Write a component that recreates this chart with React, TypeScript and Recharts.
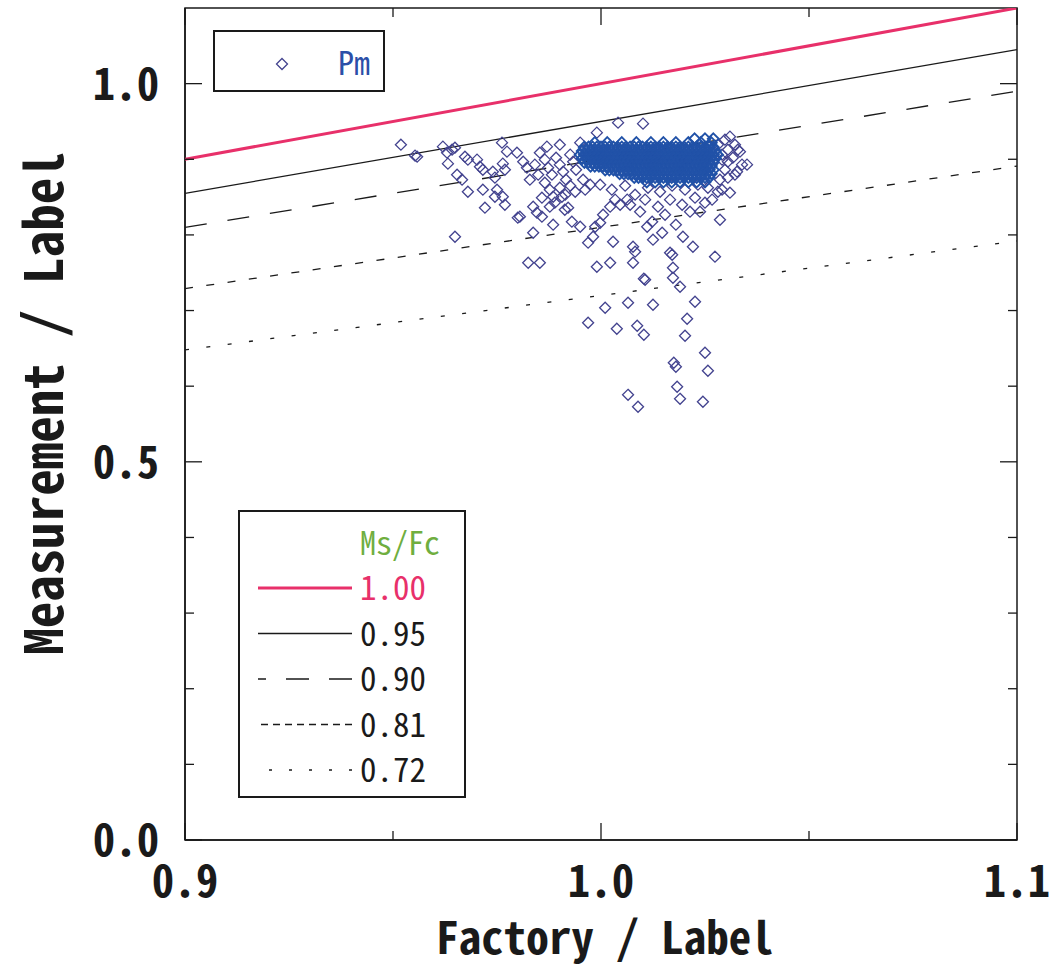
import React from 'react';
import { ScatterChart, Scatter, XAxis, YAxis, Label, ReferenceArea } from 'recharts';

const W = 1053;
const H = 968;
const FONT = "'Noto Sans Mono CJK JP', 'Noto Sans CJK JP', 'DejaVu Sans Mono', monospace";
const INK = '#1a1a1a';
const RED = '#e8306a';
const GREEN = '#6fae3f';
const PM_BLUE = '#2b4fa8';
const OUTLIER_STROKE = '#43438f';
const CORE_STROKE = '#2152a8';

// axes
const xDomain = [0.9, 1.1];
const yDomain = [0, 1.1];
const xTicks = [0.9, 0.95, 1.0, 1.05, 1.1];
const xTickLabels = [0.9, 1.0, 1.1];
const yTicks = [0, 0.1, 0.2, 0.3, 0.4, 0.5, 0.6, 0.7, 0.8, 0.9, 1.0];
const yTickLabels = [0, 0.5, 1.0];

// Ms/Fc reference lines (y = ratio * x)
const ratios = [1.0, 0.95, 0.9, 0.81, 0.72];
const ratioNames = ['1.00', '0.95', '0.90', '0.81', '0.72'];

// Pm points: scattered ones around the cluster
const pmOutliers: [number, number][] = [
  [0.9519, 0.9193], [0.9553, 0.9048], [0.9558, 0.9034], [0.962, 0.9167], [0.963, 0.9087],
  [0.9642, 0.9127], [0.9649, 0.9153], [0.9632, 0.8942], [0.9673, 0.9034], [0.968, 0.8995],
  [0.9702, 0.8995], [0.9709, 0.8902], [0.9716, 0.8862], [0.9654, 0.8796], [0.9666, 0.873],
  [0.968, 0.8571], [0.9716, 0.8598], [0.9721, 0.836], [0.9762, 0.922], [0.9774, 0.9101],
  [0.9764, 0.8942], [0.9769, 0.8862], [0.974, 0.8836], [0.9745, 0.8757], [0.975, 0.8598],
  [0.9745, 0.8505], [0.9764, 0.8505], [0.9769, 0.8399], [0.9798, 0.9087], [0.9813, 0.8968],
  [0.9822, 0.8889], [0.98, 0.8228], [0.9805, 0.8241], [0.9837, 0.8373], [0.9846, 0.8294],
  [0.9858, 0.8241], [0.9885, 0.8505], [0.9877, 0.8373], [0.9885, 0.8135], [0.9906, 0.8505],
  [0.9913, 0.8333], [0.9921, 0.836], [0.993, 0.8175], [0.995, 0.8108], [0.9649, 0.7976],
  [0.9837, 0.8029], [0.9825, 0.7632], [0.9853, 0.7632], [0.987, 0.9167], [0.9901, 0.9193],
  [0.995, 0.922], [0.999, 0.9352], [1.0041, 0.9484], [1.0101, 0.9471], [0.9969, 0.7897],
  [0.9981, 0.7976], [0.9986, 0.8108], [0.9998, 0.8161], [1.0005, 0.8267], [1.0022, 0.8373],
  [1.0029, 0.791], [1.0046, 0.8399], [1.0063, 0.8466], [0.999, 0.7579], [1.0022, 0.7632],
  [1.0077, 0.7844], [1.0082, 0.7778], [1.0077, 0.7632], [1.0103, 0.7421], [1.0106, 0.7407],
  [1.0065, 0.7103], [1.0125, 0.7077], [1.001, 0.7037], [0.9969, 0.6839], [1.0038, 0.6759],
  [1.0087, 0.6799], [1.0103, 0.668], [1.0111, 0.8108], [1.0125, 0.7937], [1.0147, 0.8029],
  [1.0166, 0.7765], [1.0171, 0.7738], [1.0173, 0.7566], [1.0173, 0.7434], [1.019, 0.7315],
  [1.0226, 0.7116], [1.0207, 0.6892], [1.0202, 0.6667], [1.0197, 0.7976], [1.0221, 0.7844],
  [1.0238, 0.8307], [1.0274, 0.7712], [1.0286, 0.8201], [1.0291, 0.8598], [1.031, 0.8558],
  [1.0334, 0.9101], [1.0351, 0.8929], [1.0327, 0.8836], [1.031, 0.9299], [1.025, 0.6442],
  [1.0257, 0.6204], [1.0175, 0.631], [1.018, 0.6257], [1.0183, 0.5992], [1.019, 0.5833],
  [1.0245, 0.5794], [1.0065, 0.5886], [1.0089, 0.5728],
];

// Pm points: the fringe of the dense cluster
const pmFringe: [number, number][] = [
  [0.9853, 0.9087], [0.9865, 0.8995], [0.9873, 0.8889], [0.9882, 0.8796], [0.9892, 0.9021],
  [0.9901, 0.8929], [0.9909, 0.8836], [0.9916, 0.873], [0.9926, 0.9061], [0.9933, 0.8968],
  [0.994, 0.8862], [0.9926, 0.8651], [0.9901, 0.8624], [0.9877, 0.8598], [0.9865, 0.869],
  [0.9849, 0.8796], [0.9841, 0.8929], [0.9829, 0.873], [0.9858, 0.8492], [0.9889, 0.8426],
  [0.9914, 0.8532], [0.9938, 0.8571], [0.9962, 0.8598], [0.9974, 0.8664], [0.9957, 0.873],
  [0.9998, 0.8664], [1.0026, 0.8598], [1.0058, 0.8651], [1.0082, 0.8532], [1.0113, 0.8624],
  [1.0142, 0.8571], [1.0171, 0.8651], [1.0202, 0.8598], [1.0233, 0.8664], [1.0257, 0.8624],
  [1.0034, 0.8466], [1.007, 0.8399], [1.0106, 0.8466], [1.0137, 0.8373], [1.0166, 0.8466],
  [1.0195, 0.8399], [1.0226, 0.8492], [1.025, 0.8426], [1.0094, 0.8307], [1.0154, 0.8267],
  [1.0214, 0.8307], [1.0123, 0.8175], [1.018, 0.8135], [1.0267, 0.8466], [1.0281, 0.8571],
  [1.0286, 0.873], [1.0298, 0.8862], [1.0291, 0.8995], [1.0305, 0.9127], [1.0322, 0.9193],
  [1.0298, 0.9259], [1.0281, 0.9193], [1.0291, 0.9061], [1.0305, 0.8968], [1.0317, 0.9021],
  [1.0329, 0.9127], [1.0339, 0.8929], [1.0322, 0.8796], [1.0305, 0.8757],
];

// Pm points: the dense core, row by row (x values at each y)
const core927 = [1.0225, 1.025, 1.027];
const core922 = [0.9985, 1.0015, 1.005, 1.0085, 1.012, 1.015, 1.018, 1.021, 1.024, 1.0265];
const core916 = [
  0.996, 0.997, 0.998, 0.999, 1.0, 1.001, 1.002, 1.003, 1.004, 1.005, 1.006, 1.007, 1.008, 1.009, 1.01, 1.011,
  1.012, 1.013, 1.014, 1.015, 1.016, 1.017, 1.018, 1.019, 1.02, 1.021, 1.022, 1.023, 1.024, 1.025, 1.026, 1.027,
];
const core911 = [
  0.9955, 0.9965, 0.9975, 0.9985, 0.9995, 1.0005, 1.0015, 1.0025, 1.0035, 1.0045, 1.0055, 1.0065, 1.0075,
  1.0085, 1.0095, 1.0105, 1.0115, 1.0125, 1.0135, 1.0145, 1.0155, 1.0165, 1.0175, 1.0185, 1.0195, 1.0205,
  1.0215, 1.0225, 1.0235, 1.0245, 1.0255, 1.0265, 1.0275,
];
const core906 = [
  0.995, 0.996, 0.997, 0.998, 0.999, 1.0, 1.001, 1.002, 1.003, 1.004, 1.005, 1.006, 1.007, 1.008, 1.009, 1.01,
  1.011, 1.012, 1.013, 1.014, 1.015, 1.016, 1.017, 1.018, 1.019, 1.02, 1.021, 1.022, 1.023, 1.024, 1.025, 1.026,
  1.027, 1.028,
];
const core901 = [
  0.9955, 0.9965, 0.9975, 0.9985, 0.9995, 1.0005, 1.0015, 1.0025, 1.0035, 1.0045, 1.0055, 1.0065, 1.0075,
  1.0085, 1.0095, 1.0105, 1.0115, 1.0125, 1.0135, 1.0145, 1.0155, 1.0165, 1.0175, 1.0185, 1.0195, 1.0205,
  1.0215, 1.0225, 1.0235, 1.0245, 1.0255, 1.0265, 1.0275,
];
const core896 = [
  0.996, 0.997, 0.998, 0.999, 1.0, 1.001, 1.002, 1.003, 1.004, 1.005, 1.006, 1.007, 1.008, 1.009, 1.01, 1.011,
  1.012, 1.013, 1.014, 1.015, 1.016, 1.017, 1.018, 1.019, 1.02, 1.021, 1.022, 1.023, 1.024, 1.025, 1.026, 1.027,
];
const core891 = [
  0.9975, 0.9985, 0.9995, 1.0005, 1.0015, 1.0025, 1.0035, 1.0045, 1.0055, 1.0065, 1.0075, 1.0085, 1.0095,
  1.0105, 1.0115, 1.0125, 1.0135, 1.0145, 1.0155, 1.0165, 1.0175, 1.0185, 1.0195, 1.0205, 1.0215, 1.0225,
  1.0235, 1.0245, 1.0255, 1.0265,
];
const core886 = [
  1.001, 1.002, 1.003, 1.004, 1.005, 1.006, 1.007, 1.008, 1.009, 1.01, 1.011, 1.012, 1.013, 1.014, 1.015,
  1.016, 1.017, 1.018, 1.019, 1.02, 1.021, 1.022, 1.023, 1.024, 1.025, 1.026, 1.027,
];
const core881 = [
  1.0045, 1.0055, 1.0065, 1.0075, 1.0085, 1.0095, 1.0105, 1.0115, 1.0125, 1.0135, 1.0145, 1.0155, 1.0165,
  1.0175, 1.0185, 1.0195, 1.0205, 1.0215, 1.0225, 1.0235, 1.0245, 1.0255, 1.0265,
];
const core876 = [
  1.008, 1.009, 1.01, 1.011, 1.012, 1.013, 1.014, 1.015, 1.016, 1.017, 1.018, 1.019, 1.02, 1.021, 1.022,
  1.023, 1.024, 1.025, 1.026,
];
const core870 = [1.011, 1.013, 1.015, 1.017, 1.019, 1.021, 1.023, 1.025];

const coreRows: [number, number[]][] = [
  [0.927, core927], [0.922, core922], [0.916, core916], [0.911, core911], [0.906, core906],
  [0.901, core901], [0.896, core896], [0.891, core891], [0.886, core886], [0.881, core881],
  [0.876, core876], [0.87, core870],
];

const lineStyles = [
  { stroke: RED, width: 3, dash: undefined as string | undefined, legendDash: undefined as string | undefined },
  { stroke: INK, width: 1.3, dash: undefined, legendDash: undefined },
  { stroke: INK, width: 1.3, dash: '22 21', legendDash: '23 20' },
  { stroke: INK, width: 1.3, dash: '8 13.5', legendDash: '7 5' },
  { stroke: INK, width: 1.3, dash: '4 17.5', legendDash: '3 17' },
];

const MAJOR = 17;
const MINOR = 9;
const isOneOf = (v: number, list: number[]) => list.some(m => Math.abs(m - v) < 1e-9);

const tickText = { fontFamily: FONT, fontSize: 44, fontWeight: 700, fill: INK } as const;

const BottomTick = ({ x, y, payload }: any) => {
  const major = isOneOf(payload.value, xTickLabels);
  return (
    <g>
      <line x1={x} y1={y} x2={x} y2={y - (major ? MAJOR : MINOR)} stroke={INK} strokeWidth={1.3} />
      {major && (
        <text x={x} y={y + 57} textAnchor="middle" style={tickText}>
          {payload.value.toFixed(1)}
        </text>
      )}
    </g>
  );
};

const TopTick = ({ x, y, payload }: any) => {
  const major = isOneOf(payload.value, xTickLabels);
  return <line x1={x} y1={y} x2={x} y2={y + (major ? MAJOR : MINOR)} stroke={INK} strokeWidth={1.3} />;
};

const LeftTick = ({ x, y, payload }: any) => {
  const major = isOneOf(payload.value, yTickLabels);
  return (
    <g>
      <line x1={x} y1={y} x2={x + (major ? MAJOR : MINOR)} y2={y} stroke={INK} strokeWidth={1.3} />
      {major && (
        <text x={x - 26} y={y + 16} textAnchor="end" style={tickText}>
          {payload.value.toFixed(1)}
        </text>
      )}
    </g>
  );
};

const RightTick = ({ x, y, payload }: any) => {
  const major = isOneOf(payload.value, yTickLabels);
  return <line x1={x} y1={y} x2={x - (major ? MAJOR : MINOR)} y2={y} stroke={INK} strokeWidth={1.3} />;
};

const XTitle = ({ viewBox }: any) => (
  <text
    x={viewBox.x + viewBox.width / 2 + 4}
    y={viewBox.y + 114}
    textAnchor="middle"
    style={{ fontFamily: FONT, fontSize: 45, fontWeight: 700, fill: INK }}
  >
    Factory / Label
  </text>
);

const YTitle = ({ viewBox }: any) => {
  const cx = viewBox.x + 40;
  const cy = viewBox.y + 395;
  return (
    <text
      x={cx}
      y={cy}
      transform={`rotate(-90 ${cx} ${cy})`}
      textAnchor="middle"
      dominantBaseline="central"
      style={{ fontFamily: FONT, fontSize: 53, fontWeight: 700, fill: INK }}
    >
      Measurement / Label
    </text>
  );
};

const diamondShape = (color: string, width = 1.3) => (props: any) => {
  const { cx, cy } = props;
  if (cx == null || cy == null) return <g />;
  const r = 5.5;
  return (
    <path
      d={`M${cx} ${cy - r}L${cx + r} ${cy}L${cx} ${cy + r}L${cx - r} ${cy}Z`}
      fill="none"
      stroke={color}
      strokeWidth={width}
    />
  );
};

const noShape = () => <g />;

export default function App() {
  const pmPoints = [...pmOutliers, ...pmFringe].map(([x, y]) => ({ x, y }));
  const corePoints = coreRows.flatMap(([y, xs]) => xs.map(x => ({ x, y })));
  const ratioLines = ratios.map(r => xDomain.map(x => ({ x, y: x * r })));
  const corners = [{ x: xDomain[0], y: yDomain[0] }, { x: xDomain[1], y: yDomain[1] }];

  return (
    <div style={{ position: 'absolute', left: 0, top: 0, width: W, height: H, background: '#fff' }}>
      <ScatterChart width={W} height={H} margin={{ top: 7, right: 35, bottom: 0, left: 0 }}>
        <XAxis
          type="number"
          dataKey="x"
          domain={xDomain}
          ticks={xTicks}
          interval={0}
          height={128}
          allowDataOverflow
          axisLine={{ stroke: INK, strokeWidth: 1.5 }}
          tickLine={false}
          tickSize={0}
          tickMargin={0}
          tick={BottomTick}
        >
          <Label content={XTitle} />
        </XAxis>
        <XAxis
          xAxisId="top"
          orientation="top"
          type="number"
          dataKey="x"
          domain={xDomain}
          ticks={xTicks}
          interval={0}
          height={1}
          allowDataOverflow
          axisLine={false}
          tickLine={false}
          tickSize={0}
          tickMargin={0}
          tick={TopTick}
        />
        <YAxis
          type="number"
          dataKey="y"
          domain={yDomain}
          ticks={yTicks}
          interval={0}
          width={185}
          allowDataOverflow
          axisLine={{ stroke: INK, strokeWidth: 1.5 }}
          tickLine={false}
          tickSize={0}
          tickMargin={0}
          tick={LeftTick}
        >
          <Label content={YTitle} />
        </YAxis>
        <YAxis
          yAxisId="right"
          orientation="right"
          type="number"
          dataKey="y"
          domain={yDomain}
          ticks={yTicks}
          interval={0}
          width={1}
          allowDataOverflow
          axisLine={false}
          tickLine={false}
          tickSize={0}
          tickMargin={0}
          tick={RightTick}
        />
        <ReferenceArea
          x1={xDomain[0]}
          x2={xDomain[1]}
          y1={yDomain[0]}
          y2={yDomain[1]}
          fill="none"
          fillOpacity={0}
          stroke={INK}
          strokeWidth={1.5}
        />
        <Scatter
          name="frame"
          xAxisId="top"
          yAxisId="right"
          data={corners}
          shape={noShape}
          legendType="none"
          isAnimationActive={false}
        />
        {ratioLines.map((pts, i) => (
          <Scatter
            key={ratioNames[i]}
            name={ratioNames[i]}
            data={pts}
            shape={noShape}
            line={{
              stroke: lineStyles[i].stroke,
              strokeWidth: lineStyles[i].width,
              strokeDasharray: lineStyles[i].dash,
            }}
            isAnimationActive={false}
          />
        ))}
        <Scatter name="Pm" data={pmPoints} shape={diamondShape(OUTLIER_STROKE)} isAnimationActive={false} />
        <Scatter name="Pm core" data={corePoints} shape={diamondShape(CORE_STROKE, 1.9)} isAnimationActive={false} />
      </ScatterChart>

      {/* Pm legend */}
      <svg style={{ position: 'absolute', left: 213, top: 30 }} width={172} height={62}>
        <rect x={1} y={1} width={170} height={60} fill="#fff" stroke={INK} strokeWidth={2} />
        {diamondShape(OUTLIER_STROKE)({ cx: 69, cy: 34 })}
        <text x={125} y={45} style={{ fontFamily: FONT, fontSize: 32, fill: PM_BLUE }}>
          Pm
        </text>
      </svg>

      {/* Ms/Fc legend */}
      <svg style={{ position: 'absolute', left: 238, top: 510 }} width={228} height={288}>
        <rect x={1} y={1} width={226} height={286} fill="#fff" stroke={INK} strokeWidth={2} />
        <text x={122} y={45} style={{ fontFamily: FONT, fontSize: 32, fill: GREEN }}>
          Ms/Fc
        </text>
        {ratioNames.map((name, i) => {
          const cy = 78 + i * 45.5;
          const s = lineStyles[i];
          return (
            <g key={name}>
              <line
                x1={114}
                y1={cy}
                x2={20}
                y2={cy}
                stroke={s.stroke}
                strokeWidth={s.width}
                strokeDasharray={s.legendDash}
              />
              <text x={122} y={cy + 12} style={{ fontFamily: FONT, fontSize: 33, fill: i === 0 ? RED : INK }}>
                {name}
              </text>
            </g>
          );
        })}
      </svg>
    </div>
  );
}
